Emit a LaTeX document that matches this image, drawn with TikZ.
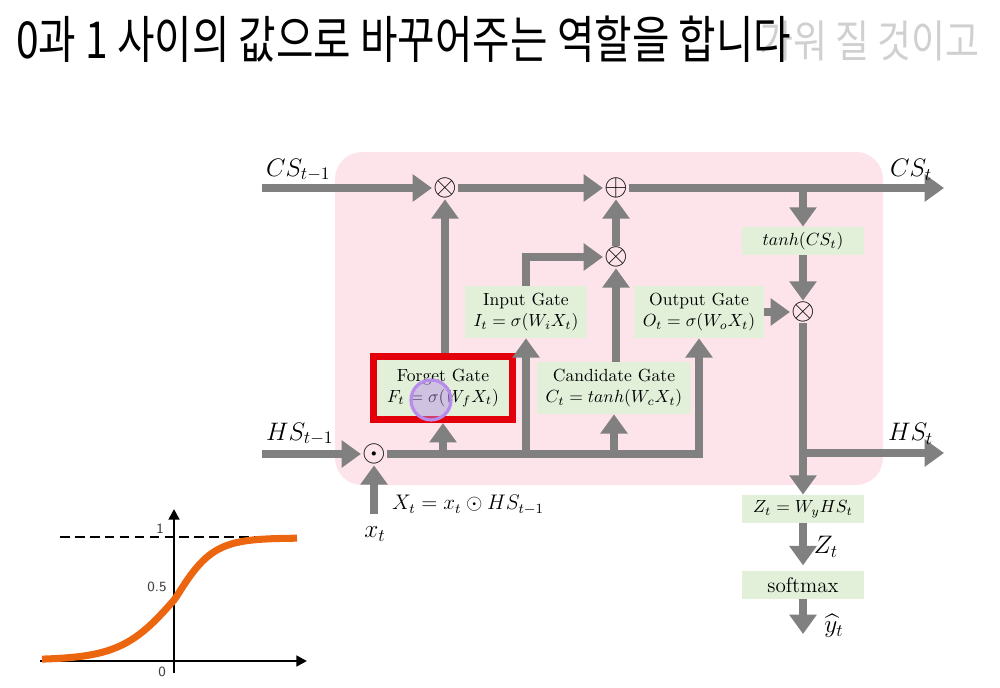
\documentclass[tikz,border=0pt]{standalone}
\usepackage{amsmath}
\usepackage{amssymb}
\usepackage{fontspec}
\usepackage{tikz}
\usetikzlibrary{arrows.meta, positioning, calc}
\newfontfamily\krfont{Noto Sans CJK KR}
\definecolor{CellPink}{RGB}{253,228,234}
\definecolor{GateGreen}{RGB}{226,240,217}
\definecolor{FlowGray}{RGB}{128,128,128}
\definecolor{FrameRed}{RGB}{228,0,10}
\definecolor{CurveOrange}{RGB}{236,102,16}
\definecolor{GhostGray}{RGB}{208,208,208}
\definecolor{CursorPurple}{RGB}{184,140,236}
\definecolor{TickGray}{RGB}{60,60,60}

\begin{document}
\begin{tikzpicture}[x=0.02cm, y=-0.02cm,
  flow/.style={draw=FlowGray, line width=4pt, -{Triangle[length=11pt,width=15pt]}},
  op/.style={inner sep=0.5pt, font=\LARGE},
  gatebox/.style={fill=GateGreen, align=center, inner xsep=5pt, inner ysep=4pt},
  smallbox/.style={fill=GateGreen, minimum width=69pt, minimum height=16pt, inner sep=1pt},
  lab/.style={font=\Large},
  axis/.style={line width=1.6pt, -{Triangle[length=6pt,width=6pt]}},
  tick/.style={font=\sffamily\footnotesize, text=TickGray}]
  \useasboundingbox (0,0) rectangle (1000,688);

  % subtitle
  \node[anchor=east, text=GhostGray, font=\krfont\fontsize{21}{25}\selectfont] (ghost) at (986,41) {\scalebox{1}[1.2]{가워 질 것이고}};
  \node[anchor=west, font=\krfont\fontsize{23.2}{27}\selectfont] (title) at (10,39) {\scalebox{1}[1.25]{0과 1 사이의 값으로 바꾸어주는 역할을 합니다}};

  % cell
  \fill[CellPink, rounded corners=0.54cm] (335,152) rectangle (883,485);

  % operators
  \node[op] (mulf) at (445,188) {$\otimes$};
  \node[op] (add)  at (616,188) {$\oplus$};
  \node[op] (muli) at (616,257) {$\otimes$};
  \node[op] (mulo) at (803,312) {$\otimes$};
  \node[op] (dot)  at (374,454) {$\odot$};

  % gates
  \node[gatebox, draw=FrameRed, line width=4pt, inner xsep=8pt, inner ysep=7pt] (forget) at (443,388) {Forget Gate\\$F_t=\sigma(W_fX_t)$};
  \node[gatebox] (input)  at (526,312) {Input Gate\\$I_t=\sigma(W_iX_t)$};
  \node[gatebox] (cand)   at (614,388) {Candidate Gate\\$C_t=tanh(W_cX_t)$};
  \node[gatebox] (output) at (699,312) {Output Gate\\$O_t=\sigma(W_oX_t)$};
  \node[smallbox] (tanhc) at (803,241) {$tanh(CS_t)$};
  \node[smallbox] (zbox)  at (803,509) {$Z_t=W_yHS_t$};
  \node[smallbox, font=\large] (smax) at (803,585) {softmax};

  % ends
  \coordinate (cin)  at (262,188);
  \coordinate (cout) at (944,188);
  \coordinate (hin)  at (262,454);
  \coordinate (hout) at (944,453);
  \coordinate (xin)  at (374,514);
  \coordinate (yout) at (803,634);

  % cell state
  \draw[flow] (cin) -- (mulf);
  \draw[flow] (mulf) -- (add);
  \draw[flow] (add) -- (cout);
  \draw[flow] (tanhc |- add) -- (tanhc);
  \draw[flow] (tanhc) -- (mulo);
  \draw[flow] (muli) -- (add);

  % hidden state
  \draw[flow] (hin) -- (dot);
  \draw[flow] (xin) -- (dot);
  \draw[flow] (dot) -| (output);
  \draw[flow] (forget.south |- dot) -- (forget);
  \draw[flow] (input |- dot) -- (input);
  \draw[flow] (cand |- dot) -- (cand);
  \draw[flow] (forget.north -| mulf) -- (mulf);
  \draw[flow] (input) |- (muli);
  \draw[flow] (cand.north -| muli) -- (muli);
  \draw[flow] (output) -- (mulo);
  \draw[flow] (mulo) -- (zbox);
  \draw[flow] (mulo |- hout) -- (hout);
  \draw[flow, shorten >=3pt] (zbox) -- (smax);
  \draw[flow] (smax) -- (yout);

  % labels
  \node[lab, anchor=west] (cslab) at (260,170) {$CS_{t-1}$};
  \node[lab, anchor=west] (hslab) at (260,434) {$HS_{t-1}$};
  \node[lab, anchor=west] (cstlab) at (884,170) {$CS_t$};
  \node[lab, anchor=west] (hstlab) at (882,434) {$HS_t$};
  \node[lab] (xlab) at (375,534) {$x_t$};
  \node[font=\large, anchor=west] (xtlab) at (386,505) {$X_t=x_t\odot HS_{t-1}$};
  \node[lab] (zlab) at (826,547) {$Z_t$};
  \node[lab] (ylab) at (834,626) {$\widehat{y}_t$};

  % cursor
  \draw[CursorPurple, line width=1.8pt, fill=CursorPurple, fill opacity=0.45] (431,400) circle (0.4cm);

  % sigmoid
  \draw[dashed, line width=1.5pt, dash pattern=on 5.5pt off 3pt] (60,537) -- (297,537);
  \draw[axis] (40,661) -- (307,661);
  \draw[axis] (174,673) -- (174,509);
  \draw[CurveOrange, line width=4pt] plot[domain=42:297, samples=90] (\x, {660-122/(1+exp(-(\x-175)/(\x<175 ? 27 : 19)))});
  \node[tick] (one)  at (160,529) {1};
  \node[tick] (half) at (157,587) {0.5};
  \node[tick] (zero) at (162,672) {0};
\end{tikzpicture}
\end{document}
